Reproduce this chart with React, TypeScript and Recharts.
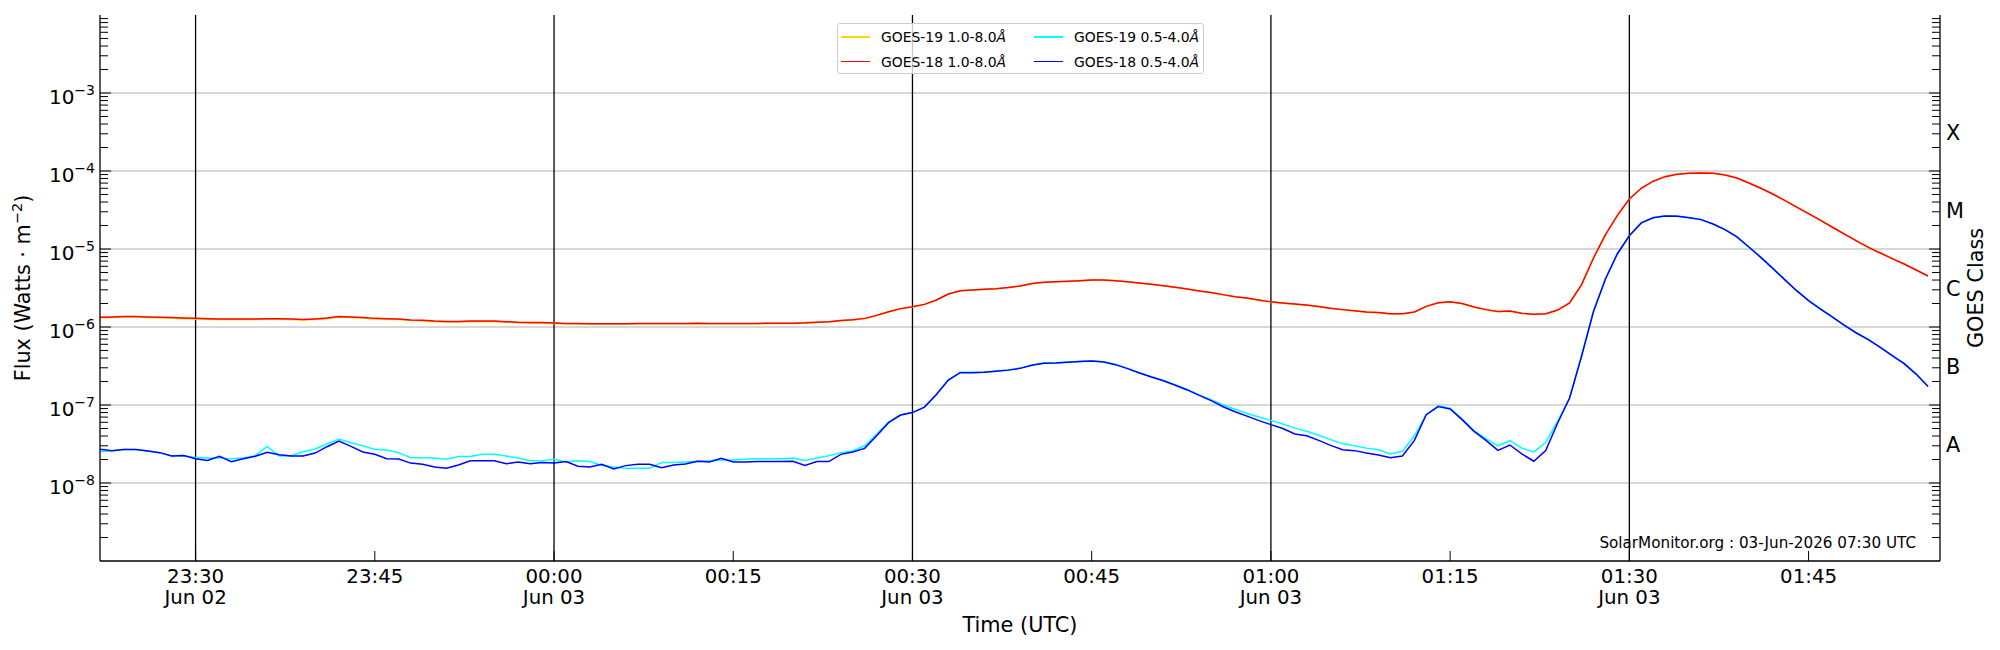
import React from 'react';
import { LineChart, Line, XAxis, YAxis, ReferenceLine } from 'recharts';

const FONT = '"DejaVu Sans", sans-serif';
const PL = 100;
const PR = 1940;
const PB = 561;

// minutes relative to 00:00 UTC, 03 Jun (negative = 02 Jun)
const minutes = [
  -38, -37, -36, -35, -34, -33, -32, -31, -30, -29,
  -28, -27, -26, -25, -24, -23, -22, -21, -20, -19,
  -18, -17, -16, -15, -14, -13, -12, -11, -10, -9,
  -8, -7, -6, -5, -4, -3, -2, -1, 0, 1,
  2, 3, 4, 5, 6, 7, 8, 9, 10, 11,
  12, 13, 14, 15, 16, 17, 18, 19, 20, 21,
  22, 23, 24, 25, 26, 27, 28, 29, 30, 31,
  32, 33, 34, 35, 36, 37, 38, 39, 40, 41,
  42, 43, 44, 45, 46, 47, 48, 49, 50, 51,
  52, 53, 54, 55, 56, 57, 58, 59, 60, 61,
  62, 63, 64, 65, 66, 67, 68, 69, 70, 71,
  72, 73, 74, 75, 76, 77, 78, 79, 80, 81,
  82, 83, 84, 85, 86, 87, 88, 89, 90, 91,
  92, 93, 94, 95, 96, 97, 98, 99, 100, 101,
  102, 103, 104, 105, 106, 107, 108, 109, 110, 111,
  112, 113, 114, 115,
];

const goes19Long = [
  1.31e-6, 1.32e-6, 1.34e-6, 1.34e-6, 1.32e-6, 1.31e-6, 1.30e-6, 1.28e-6, 1.27e-6, 1.26e-6,
  1.25e-6, 1.25e-6, 1.25e-6, 1.25e-6, 1.26e-6, 1.26e-6, 1.25e-6, 1.23e-6, 1.25e-6, 1.28e-6,
  1.34e-6, 1.32e-6, 1.30e-6, 1.27e-6, 1.26e-6, 1.25e-6, 1.21e-6, 1.20e-6, 1.17e-6, 1.16e-6,
  1.16e-6, 1.17e-6, 1.17e-6, 1.17e-6, 1.15e-6, 1.13e-6, 1.12e-6, 1.12e-6, 1.11e-6, 1.10e-6,
  1.09e-6, 1.09e-6, 1.09e-6, 1.09e-6, 1.09e-6, 1.10e-6, 1.10e-6, 1.10e-6, 1.10e-6, 1.10e-6,
  1.11e-6, 1.10e-6, 1.10e-6, 1.10e-6, 1.10e-6, 1.10e-6, 1.11e-6, 1.11e-6, 1.11e-6, 1.12e-6,
  1.14e-6, 1.16e-6, 1.20e-6, 1.23e-6, 1.28e-6, 1.40e-6, 1.56e-6, 1.71e-6, 1.81e-6, 1.94e-6,
  2.21e-6, 2.64e-6, 2.91e-6, 2.97e-6, 3.03e-6, 3.09e-6, 3.19e-6, 3.34e-6, 3.59e-6, 3.73e-6,
  3.79e-6, 3.84e-6, 3.91e-6, 3.99e-6, 3.99e-6, 3.91e-6, 3.79e-6, 3.65e-6, 3.52e-6, 3.38e-6,
  3.22e-6, 3.06e-6, 2.89e-6, 2.75e-6, 2.59e-6, 2.44e-6, 2.34e-6, 2.21e-6, 2.09e-6, 2.02e-6,
  1.96e-6, 1.90e-6, 1.82e-6, 1.73e-6, 1.66e-6, 1.60e-6, 1.55e-6, 1.52e-6, 1.47e-6, 1.47e-6,
  1.55e-6, 1.83e-6, 2.03e-6, 2.09e-6, 1.99e-6, 1.80e-6, 1.66e-6, 1.57e-6, 1.59e-6, 1.49e-6,
  1.45e-6, 1.47e-6, 1.64e-6, 2.03e-6, 3.47e-6, 7.63e-6, 1.52e-5, 2.69e-5, 4.37e-5, 6.02e-5,
  7.43e-5, 8.50e-5, 9.10e-5, 9.38e-5, 9.48e-5, 9.38e-5, 8.94e-5, 8.16e-5, 7.05e-5, 6.02e-5,
  5.09e-5, 4.21e-5, 3.46e-5, 2.85e-5, 2.34e-5, 1.91e-5, 1.56e-5, 1.28e-5, 1.06e-5, 8.93e-6,
  7.55e-6, 6.45e-6, 5.40e-6, 4.53e-6,
];

const goes18Long = [
  1.33e-6, 1.34e-6, 1.36e-6, 1.36e-6, 1.34e-6, 1.33e-6, 1.32e-6, 1.30e-6, 1.29e-6, 1.28e-6,
  1.27e-6, 1.27e-6, 1.27e-6, 1.27e-6, 1.28e-6, 1.28e-6, 1.27e-6, 1.25e-6, 1.27e-6, 1.30e-6,
  1.36e-6, 1.34e-6, 1.32e-6, 1.29e-6, 1.28e-6, 1.27e-6, 1.23e-6, 1.22e-6, 1.19e-6, 1.18e-6,
  1.18e-6, 1.19e-6, 1.19e-6, 1.19e-6, 1.17e-6, 1.15e-6, 1.14e-6, 1.14e-6, 1.125e-6, 1.11e-6,
  1.11e-6, 1.10e-6, 1.10e-6, 1.10e-6, 1.10e-6, 1.11e-6, 1.11e-6, 1.11e-6, 1.11e-6, 1.11e-6,
  1.12e-6, 1.11e-6, 1.11e-6, 1.11e-6, 1.11e-6, 1.11e-6, 1.12e-6, 1.12e-6, 1.12e-6, 1.13e-6,
  1.15e-6, 1.17e-6, 1.21e-6, 1.24e-6, 1.29e-6, 1.41e-6, 1.57e-6, 1.72e-6, 1.82e-6, 1.95e-6,
  2.22e-6, 2.65e-6, 2.92e-6, 2.98e-6, 3.04e-6, 3.10e-6, 3.20e-6, 3.35e-6, 3.60e-6, 3.74e-6,
  3.80e-6, 3.85e-6, 3.92e-6, 4.00e-6, 4.00e-6, 3.92e-6, 3.80e-6, 3.66e-6, 3.53e-6, 3.39e-6,
  3.23e-6, 3.07e-6, 2.90e-6, 2.76e-6, 2.60e-6, 2.45e-6, 2.35e-6, 2.22e-6, 2.10e-6, 2.03e-6,
  1.97e-6, 1.91e-6, 1.83e-6, 1.74e-6, 1.67e-6, 1.61e-6, 1.56e-6, 1.53e-6, 1.48e-6, 1.48e-6,
  1.56e-6, 1.84e-6, 2.04e-6, 2.10e-6, 2.00e-6, 1.81e-6, 1.67e-6, 1.58e-6, 1.60e-6, 1.50e-6,
  1.46e-6, 1.48e-6, 1.65e-6, 2.04e-6, 3.49e-6, 7.67e-6, 1.53e-5, 2.70e-5, 4.38e-5, 6.00e-5,
  7.40e-5, 8.46e-5, 9.06e-5, 9.33e-5, 9.43e-5, 9.33e-5, 8.90e-5, 8.13e-5, 7.02e-5, 6.00e-5,
  5.07e-5, 4.20e-5, 3.45e-5, 2.84e-5, 2.33e-5, 1.90e-5, 1.55e-5, 1.27e-5, 1.05e-5, 8.89e-6,
  7.52e-6, 6.42e-6, 5.38e-6, 4.51e-6,
];

const goes19Short = [
  2.52e-8, 2.60e-8, 2.68e-8, 2.68e-8, 2.57e-8, 2.45e-8, 2.22e-8, 2.24e-8, 2.12e-8, 2.09e-8,
  2.09e-8, 2.05e-8, 2.09e-8, 2.24e-8, 2.95e-8, 2.22e-8, 2.24e-8, 2.52e-8, 2.73e-8, 3.16e-8,
  3.66e-8, 3.29e-8, 3.00e-8, 2.70e-8, 2.65e-8, 2.45e-8, 2.11e-8, 2.11e-8, 2.09e-8, 2.02e-8,
  2.18e-8, 2.18e-8, 2.33e-8, 2.33e-8, 2.22e-8, 2.09e-8, 1.93e-8, 1.93e-8, 2.02e-8, 1.86e-8,
  1.93e-8, 1.88e-8, 1.68e-8, 1.60e-8, 1.54e-8, 1.54e-8, 1.54e-8, 1.83e-8, 1.83e-8, 1.86e-8,
  1.90e-8, 1.93e-8, 1.97e-8, 1.97e-8, 2.02e-8, 2.05e-8, 2.05e-8, 2.05e-8, 2.09e-8, 1.95e-8,
  2.09e-8, 2.24e-8, 2.45e-8, 2.57e-8, 3.00e-8, 4.20e-8, 6.05e-8, 7.44e-8, 8.00e-8, 9.40e-8,
  1.36e-7, 2.09e-7, 2.62e-7, 2.62e-7, 2.64e-7, 2.72e-7, 2.82e-7, 2.97e-7, 3.25e-7, 3.45e-7,
  3.48e-7, 3.55e-7, 3.62e-7, 3.69e-7, 3.58e-7, 3.31e-7, 2.95e-7, 2.59e-7, 2.30e-7, 2.07e-7,
  1.81e-7, 1.58e-7, 1.35e-7, 1.17e-7, 1.00e-7, 8.80e-8, 7.80e-8, 7.00e-8, 6.35e-8, 5.70e-8,
  5.05e-8, 4.60e-8, 4.10e-8, 3.60e-8, 3.20e-8, 3.00e-8, 2.80e-8, 2.67e-8, 2.36e-8, 2.55e-8,
  4.00e-8, 7.50e-8, 9.80e-8, 9.10e-8, 6.60e-8, 4.70e-8, 3.70e-8, 3.00e-8, 3.50e-8, 2.80e-8,
  2.50e-8, 3.30e-8, 6.20e-8, 1.23e-7, 4.30e-7, 1.60e-6, 4.15e-6, 8.75e-6, 1.49e-5, 2.17e-5,
  2.53e-5, 2.66e-5, 2.64e-5, 2.53e-5, 2.39e-5, 2.10e-5, 1.78e-5, 1.44e-5, 1.07e-5, 7.86e-6,
  5.68e-6, 4.07e-6, 2.94e-6, 2.19e-6, 1.71e-6, 1.35e-6, 1.06e-6, 8.42e-7, 6.92e-7, 5.52e-7,
  4.31e-7, 3.41e-7, 2.51e-7, 1.74e-7,
];

const goes18Short = [
  2.70e-8, 2.60e-8, 2.68e-8, 2.68e-8, 2.57e-8, 2.45e-8, 2.22e-8, 2.25e-8, 2.05e-8, 1.95e-8,
  2.20e-8, 1.88e-8, 2.05e-8, 2.20e-8, 2.47e-8, 2.30e-8, 2.22e-8, 2.22e-8, 2.42e-8, 2.92e-8,
  3.45e-8, 2.95e-8, 2.50e-8, 2.33e-8, 2.05e-8, 2.03e-8, 1.80e-8, 1.74e-8, 1.60e-8, 1.55e-8,
  1.70e-8, 1.93e-8, 1.93e-8, 1.93e-8, 1.76e-8, 1.86e-8, 1.77e-8, 1.83e-8, 1.80e-8, 1.88e-8,
  1.64e-8, 1.60e-8, 1.74e-8, 1.51e-8, 1.67e-8, 1.74e-8, 1.74e-8, 1.57e-8, 1.70e-8, 1.75e-8,
  1.90e-8, 1.86e-8, 2.07e-8, 1.86e-8, 1.86e-8, 1.88e-8, 1.88e-8, 1.88e-8, 1.90e-8, 1.68e-8,
  1.88e-8, 1.88e-8, 2.33e-8, 2.50e-8, 2.78e-8, 4.04e-8, 5.94e-8, 7.44e-8, 8.00e-8, 9.40e-8,
  1.36e-7, 2.09e-7, 2.60e-7, 2.60e-7, 2.62e-7, 2.70e-7, 2.80e-7, 2.95e-7, 3.23e-7, 3.43e-7,
  3.46e-7, 3.53e-7, 3.60e-7, 3.67e-7, 3.56e-7, 3.29e-7, 2.93e-7, 2.57e-7, 2.28e-7, 2.05e-7,
  1.79e-7, 1.56e-7, 1.33e-7, 1.14e-7, 9.50e-8, 8.20e-8, 7.20e-8, 6.30e-8, 5.60e-8, 5.00e-8,
  4.25e-8, 4.04e-8, 3.52e-8, 3.04e-8, 2.67e-8, 2.60e-8, 2.43e-8, 2.29e-8, 2.11e-8, 2.22e-8,
  3.49e-8, 7.51e-8, 9.53e-8, 8.90e-8, 6.49e-8, 4.59e-8, 3.52e-8, 2.62e-8, 3.07e-8, 2.36e-8,
  1.90e-8, 2.60e-8, 5.87e-8, 1.23e-7, 4.21e-7, 1.58e-6, 4.12e-6, 8.70e-6, 1.48e-5, 2.16e-5,
  2.52e-5, 2.65e-5, 2.63e-5, 2.52e-5, 2.38e-5, 2.09e-5, 1.77e-5, 1.43e-5, 1.06e-5, 7.82e-6,
  5.65e-6, 4.05e-6, 2.92e-6, 2.18e-6, 1.70e-6, 1.34e-6, 1.05e-6, 8.38e-7, 6.89e-7, 5.49e-7,
  4.29e-7, 3.39e-7, 2.49e-7, 1.73e-7,
];

const xTickMinutes = [-30, -15, 0, 15, 30, 45, 60, 75, 90, 105];
const xTickTimes = ['23:30', '23:45', '00:00', '00:15', '00:30', '00:45', '01:00', '01:15', '01:30', '01:45'];
const xTickDates = ['Jun 02', '', 'Jun 03', '', 'Jun 03', '', 'Jun 03', '', 'Jun 03', ''];
const verticalLineMinutes = [-30, 0, 30, 60, 90];

const decadeExponents = [-9, -8, -7, -6, -5, -4, -3, -2];
const labelledExponents = [-8, -7, -6, -5, -4, -3];
const gridExponents = [-8, -7, -6, -5, -4, -3];
const minorMultipliers = [2, 3, 4, 5, 6, 7, 8, 9];
const classLetters = ['A', 'B', 'C', 'M', 'X'];
const classExponents = [-7.5, -6.5, -5.5, -4.5, -3.5];

const seriesNames = ['GOES-19 1.0-8.0', 'GOES-18 1.0-8.0', 'GOES-19 0.5-4.0', 'GOES-18 0.5-4.0'];
const seriesKeys = ['g19l', 'g18l', 'g19s', 'g18s'];
const seriesColors = ['#ffd700', '#ff0000', '#00ffff', '#0000ff'];
const seriesValues = [goes19Long, goes18Long, goes19Short, goes18Short];

const rows = minutes.map((t, i) => {
  const r: Record<string, number> = { t };
  seriesKeys.forEach((k, s) => {
    r[k] = seriesValues[s][i];
  });
  return r;
});

const logTicks: number[] = [];
decadeExponents.forEach((e) => {
  logTicks.push(Math.pow(10, e));
  if (e < -2) minorMultipliers.forEach((m) => logTicks.push(m * Math.pow(10, e)));
});
const classTicks = classExponents.map((e) => Math.pow(10, e));

const tickInfo = (v: number) => {
  const lg = Math.log10(v);
  const e = Math.round(lg);
  return { e, major: Math.abs(lg - e) < 1e-6, edge: lg < -8.9999 || lg > -2.0001 };
};

const LeftTick = (props: any) => {
  const { y, payload } = props;
  const { e, major, edge } = tickInfo(payload.value);
  if (edge) return <g />;
  return (
    <g>
      <line x1={PL} x2={PL + (major ? 11 : 8)} y1={y} y2={y} stroke="#000" strokeWidth={1} />
      {major && labelledExponents.includes(e) ? (
        <text x={95} y={y + 11} textAnchor="end" fontFamily={FONT} fontSize={20} fill="#000">
          10
          <tspan dy={-9} fontSize={14}>{'\u2212' + Math.abs(e)}</tspan>
        </text>
      ) : null}
    </g>
  );
};

const RightTick = (props: any) => {
  const { y, payload } = props;
  const v = payload.value;
  const ci = classTicks.findIndex((c) => Math.abs(Math.log10(c) - Math.log10(v)) < 1e-6);
  if (ci >= 0) {
    return (
      <text x={1946} y={y + 7.5} textAnchor="start" fontFamily={FONT} fontSize={20.8} fill="#000">
        {classLetters[ci]}
      </text>
    );
  }
  const { major, edge } = tickInfo(v);
  if (edge) return <g />;
  return <line x1={PR} x2={PR - (major ? 11 : 8)} y1={y} y2={y} stroke="#000" strokeWidth={1} />;
};

const XTick = (props: any) => {
  const { x, payload } = props;
  const i = xTickMinutes.indexOf(payload.value);
  return (
    <g>
      <line x1={x} x2={x} y1={PB} y2={PB - 10} stroke="#000" strokeWidth={1} />
      <text x={x} y={583} textAnchor="middle" fontFamily={FONT} fontSize={19.8} fill="#000">
        {xTickTimes[i]}
      </text>
      {xTickDates[i] ? (
        <text x={x} y={603.5} textAnchor="middle" fontFamily={FONT} fontSize={19.8} fill="#000">
          {xTickDates[i]}
        </text>
      ) : null}
    </g>
  );
};

const frame = { stroke: '#000', strokeWidth: 1.3 };

export default function App() {
  return (
    <div style={{ position: 'absolute', left: 0, top: 0, width: 2000, height: 650, background: '#fff' }}>
      <LineChart width={2000} height={650} data={rows} margin={{ top: 15, right: 0, bottom: 0, left: 0 }}>
        <XAxis
          dataKey="t"
          type="number"
          domain={[-38, 116]}
          allowDataOverflow
          ticks={xTickMinutes}
          interval={0}
          height={89}
          tickLine={false}
          axisLine={frame}
          tick={XTick}
        />
        <XAxis
          xAxisId="top"
          orientation="top"
          dataKey="t"
          type="number"
          domain={[-38, 116]}
          allowDataOverflow
          height={0}
          tick={false}
          tickLine={false}
          axisLine={frame}
        />
        <YAxis
          scale="log"
          type="number"
          domain={[1e-9, 1e-2]}
          allowDataOverflow
          ticks={logTicks}
          interval={0}
          width={100}
          tickLine={false}
          axisLine={frame}
          tick={LeftTick}
        />
        <YAxis
          yAxisId="right"
          orientation="right"
          scale="log"
          type="number"
          domain={[1e-9, 1e-2]}
          allowDataOverflow
          ticks={[...logTicks, ...classTicks]}
          interval={0}
          width={60}
          tickLine={false}
          axisLine={frame}
          tick={RightTick}
        />
        {gridExponents.map((e) => (
          <ReferenceLine key={'g' + e} y={Math.pow(10, e)} stroke="#b0b0b0" strokeWidth={1.1} />
        ))}
        {verticalLineMinutes.map((m) => (
          <ReferenceLine key={'v' + m} x={m} stroke="#000" strokeWidth={1.3} />
        ))}
        {seriesKeys.map((k, s) => (
          <Line
            key={k}
            dataKey={k}
            type="linear"
            stroke={seriesColors[s]}
            strokeWidth={1.5}
            dot={false}
            activeDot={false}
            isAnimationActive={false}
          />
        ))}
      </LineChart>
      <svg
        width={2000}
        height={650}
        style={{ position: 'absolute', left: 0, top: 0, pointerEvents: 'none' }}
      >
        <text
          transform="translate(30,288) rotate(-90)"
          textAnchor="middle"
          fontFamily={FONT}
          fontSize={20.8}
          fill="#000"
        >
          Flux (Watts · m
          <tspan dy={-8} fontSize={14.5}>{'\u22122'}</tspan>
          <tspan dy={8}>)</tspan>
        </text>
        <text
          transform="translate(1983,288) rotate(-90)"
          textAnchor="middle"
          fontFamily={FONT}
          fontSize={20.8}
          fill="#000"
        >
          GOES Class
        </text>
        <text x={1020} y={632} textAnchor="middle" fontFamily={FONT} fontSize={20.8} fill="#000">
          Time (UTC)
        </text>
        <text x={1916} y={548} textAnchor="end" fontFamily={FONT} fontSize={15.2} fill="#000">
          SolarMonitor.org : 03-Jun-2026 07:30 UTC
        </text>
      </svg>
      <div
        style={{
          position: 'absolute',
          left: 837,
          top: 23,
          width: 367,
          height: 51,
          boxSizing: 'border-box',
          border: '1px solid #cccccc',
          borderRadius: 3,
          background: 'rgba(255,255,255,0.8)',
          fontFamily: FONT,
          fontSize: 13.9,
          color: '#000',
        }}
      >
        {seriesNames.map((name, s) => {
          const col = s < 2 ? 0 : 1;
          const row = s % 2;
          const left = col === 0 ? 3 : 196;
          const cy = row === 0 ? 13 : 37.5;
          return (
            <div key={name}>
              <div
                style={{
                  position: 'absolute',
                  left,
                  top: cy - 0.75,
                  width: 29,
                  height: 1.5,
                  background: seriesColors[s],
                }}
              />
              <div
                style={{
                  position: 'absolute',
                  left: left + 40,
                  top: cy - 9,
                  height: 18,
                  lineHeight: '18px',
                  whiteSpace: 'nowrap',
                }}
              >
                {name}
                <i>Å</i>
              </div>
            </div>
          );
        })}
      </div>
    </div>
  );
}
